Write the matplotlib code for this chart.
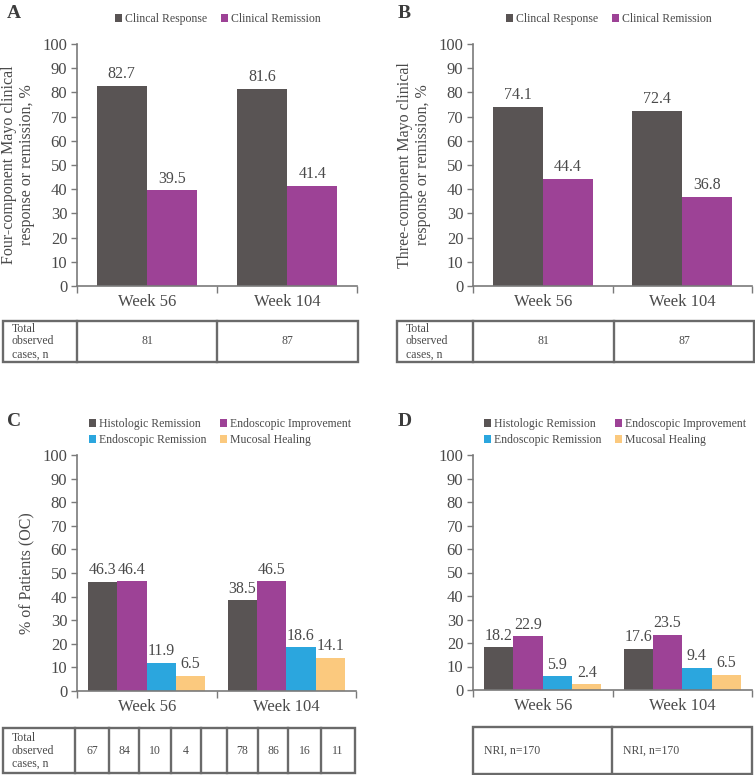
import numpy as np
import matplotlib.pyplot as plt

plt.rcParams['font.family'] = ['Liberation Serif', 'DejaVu Serif']

W, H = 755, 775
TXT = '#4a4a4a'
AX = '#7a7a7a'

weeks = ['Week 56', 'Week 104']

# panel A / B
ab_series = ['Clincal Response', 'Clinical Remission']
a_values = [[82.7, 81.6], [39.5, 41.4]]
b_values = [[74.1, 72.4], [44.4, 36.8]]
ab_cases = ['81', '87']

# panel C / D
cd_series = ['Histologic Remission', 'Endoscopic Improvement',
             'Endoscopic Remission', 'Mucosal Healing']
c_values = [[46.3, 38.5], [46.4, 46.5], [11.9, 18.6], [6.5, 14.1]]
d_values = [[18.2, 17.6], [22.9, 23.5], [5.9, 9.4], [2.4, 6.5]]
c_cases = ['67', '84', '10', '4', '', '78', '86', '16', '11']
d_cases = ['NRI, n=170', 'NRI, n=170']

colors = ['#595454', '#9d4296', '#2ba6de', '#fbc97e']
cases_label = 'Total\nobserved\ncases, n'

fig = plt.figure(figsize=(W / 100, H / 100), dpi=100)
fig.patch.set_facecolor('white')

# overlay for tables and letters (pixel coords)
ov = fig.add_axes([0, 0, 1, 1], zorder=-1)
ov.set_xlim(0, W)
ov.set_ylim(H, 0)
ov.axis('off')


def px_axes(left, top, right, bottom):
    return fig.add_axes([left / W, 1 - bottom / H, (right - left) / W, (bottom - top) / H])


def bar_panel(ax, values, series, width, ylabel, leg_xy, order):
    n = len(values)
    x = np.arange(len(weeks))
    handles = []
    for i, vals in enumerate(values):
        off = (i - (n - 1) / 2) * width
        b = ax.bar(x + off, vals, width, color=colors[i], label=series[i], zorder=2)
        handles.append(b)
        for xi, v in zip(x + off, vals):
            ax.text(xi, v + 1.5, f'{v:.1f}', ha='center', va='bottom',
                    fontsize=11.5, color=TXT)
    ax.set_xlim(-0.5, len(weeks) - 0.5)
    ax.set_ylim(0, 100)
    ax.set_yticks(range(0, 101, 10))
    ax.set_xticks(x)
    ax.set_xticklabels(weeks, fontsize=12, color=TXT)
    ax.set_xticks(np.arange(len(weeks) + 1) - 0.5, minor=True)
    ax.tick_params(axis='x', which='major', length=0, pad=6)
    ax.tick_params(axis='x', which='minor', length=5, color=AX, width=1)
    ax.tick_params(axis='y', length=4, color=AX, width=1, labelsize=12, labelcolor=TXT, pad=3)
    for s in ['top', 'right']:
        ax.spines[s].set_visible(False)
    for s in ['left', 'bottom']:
        ax.spines[s].set_color(AX)
        ax.spines[s].set_linewidth(1.2)
    if ylabel:
        ax.set_ylabel(ylabel, fontsize=11.5, color=TXT, labelpad=5)
    hs = [handles[k] for k in order]
    ax.legend(hs, [series[k] for k in order], ncol=2, loc='center',
              bbox_to_anchor=(leg_xy[0] / W, 1 - leg_xy[1] / H),
              bbox_transform=fig.transFigure, frameon=False, fontsize=8.5,
              handlelength=0.6, handleheight=0.6, handletextpad=0.25,
              columnspacing=1.2, labelspacing=0.35, labelcolor=TXT)


def table(edges, top, bottom, texts, label=True, align='center'):
    ov.add_patch(plt.Rectangle((edges[0], top), edges[-1] - edges[0], bottom - top,
                               fill=False, ec='#6a6a6a', lw=1.7))
    for e in edges[1:-1]:
        ov.plot([e, e], [top, bottom], color='#6a6a6a', lw=1.7)
    cy = (top + bottom) / 2
    cells = list(zip(edges[:-1], edges[1:]))
    if label:
        ov.text(cells[0][0] + 9, cy, cases_label, ha='left', va='center',
                fontsize=8.5, color=TXT, linespacing=1.1)
        cells = cells[1:]
    for (l, r), t in zip(cells, texts):
        if align == 'center':
            ov.text((l + r) / 2, cy, t, ha='center', va='center', fontsize=8.5, color=TXT)
        else:
            ov.text(l + 11, cy, t, ha='left', va='center', fontsize=8.5, color=TXT)


# Panel A
axA = px_axes(77, 44, 357, 286)
bar_panel(axA, a_values, ab_series, 0.36,
          'Four-component Mayo clinical\nresponse or remission, %', (218, 19), [0, 1])
table([3, 77, 217, 358], 321, 362, ab_cases)

# Panel B
axB = px_axes(473, 44, 752, 286)
bar_panel(axB, b_values, ab_series, 0.36,
          'Three-component Mayo clinical\nresponse or remission, %', (609, 19), [0, 1])
table([397, 473, 614, 754], 321, 362, ab_cases)

# Panel C
axC = px_axes(77, 455, 356, 691)
bar_panel(axC, c_values, cd_series, 0.21, '% of Patients (OC)', (220, 432), [0, 2, 1, 3])
table([3, 75, 109, 139, 171, 201, 227, 258, 288, 321, 355], 728, 773, c_cases)

# Panel D
axD = px_axes(473, 455, 752, 690)
bar_panel(axD, d_values, cd_series, 0.21, None, (615, 432), [0, 2, 1, 3])
table([473, 612, 752], 727, 774, d_cases, label=False, align='left')

for letter, (lx, ly) in zip('ABCD', [(7, 14), (398, 14), (7, 421), (398, 421)]):
    ov.text(lx, ly, letter, fontsize=14, fontweight='bold', color='#3c3c3c', ha='left', va='center')

fig.savefig('out.png', dpi=100, facecolor='white')
